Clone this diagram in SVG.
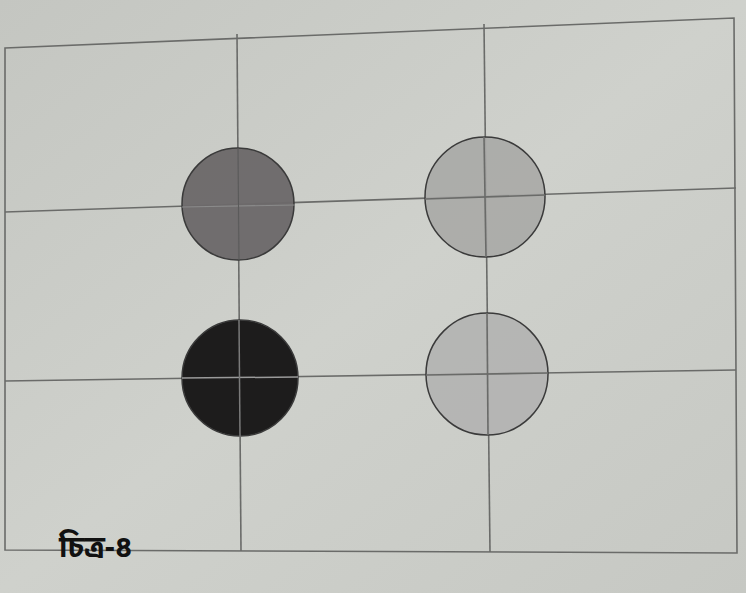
<svg xmlns="http://www.w3.org/2000/svg" width="746" height="593" viewBox="0 0 746 593">
<defs>
<linearGradient id="bg" x1="0" y1="0" x2="1" y2="1">
<stop offset="0" stop-color="#c4c6c1"/>
<stop offset="0.5" stop-color="#cfd1cc"/>
<stop offset="1" stop-color="#c6c8c3"/>
</linearGradient>
</defs>
<style>
.ln{stroke:#6a6b69;stroke-width:1.6;fill:none}
.cir{stroke:#3a3a3a;stroke-width:1.5}
.lbl{font-family:"Noto Sans Bengali","Lohit Bengali","Noto Sans","DejaVu Sans",sans-serif;font-size:30px;font-weight:bold;fill:#111}
</style>
<rect x="0" y="0" width="746" height="593" fill="url(#bg)"/>
<g id="grid">
<polygon class="ln" points="5,48 734,18 737,553 5,550"/>
<line class="ln" x1="237" y1="34" x2="241" y2="551"/>
<line class="ln" x1="484" y1="24" x2="490" y2="552"/>
<line class="ln" x1="5" y1="212" x2="736" y2="188"/>
<line class="ln" x1="5" y1="381" x2="736" y2="370"/>
</g>
<g id="c1"><circle class="cir" cx="238" cy="204" r="56" fill="#6c696a" fill-opacity="0.97"/><line x1="182" y1="207" x2="295" y2="205" stroke="#8a8a8a" stroke-width="1.2"/></g>
<g id="c2"><circle class="cir" cx="485" cy="197" r="60" fill="#a8a8a6" fill-opacity="0.9"/></g>
<g id="c3"><circle class="cir" cx="240" cy="378" r="58" fill="#1d1c1c"/><line x1="182" y1="378" x2="298" y2="377" stroke="#9a9a9a" stroke-width="1.5"/><line x1="239" y1="320" x2="240" y2="437" stroke="#7a7a7a" stroke-width="1.5"/></g>
<g id="c4"><circle class="cir" cx="487" cy="374" r="61" fill="#b3b3b1" fill-opacity="0.9"/></g>
<g id="grid-over">
<line class="ln" x1="484" y1="137" x2="486" y2="257" stroke-width="1.2"/>
<line class="ln" x1="425" y1="199" x2="545" y2="195" stroke-width="1.2"/>
<line class="ln" x1="487" y1="313" x2="488" y2="435" stroke-width="1.2"/>
<line class="ln" x1="426" y1="375" x2="548" y2="373" stroke-width="1.2"/>
<line x1="238" y1="148" x2="239" y2="260" stroke="#5a5a5a" stroke-width="1"/>
</g>
<text class="lbl" x="59" y="557">চিত্র-৪</text>
</svg>
